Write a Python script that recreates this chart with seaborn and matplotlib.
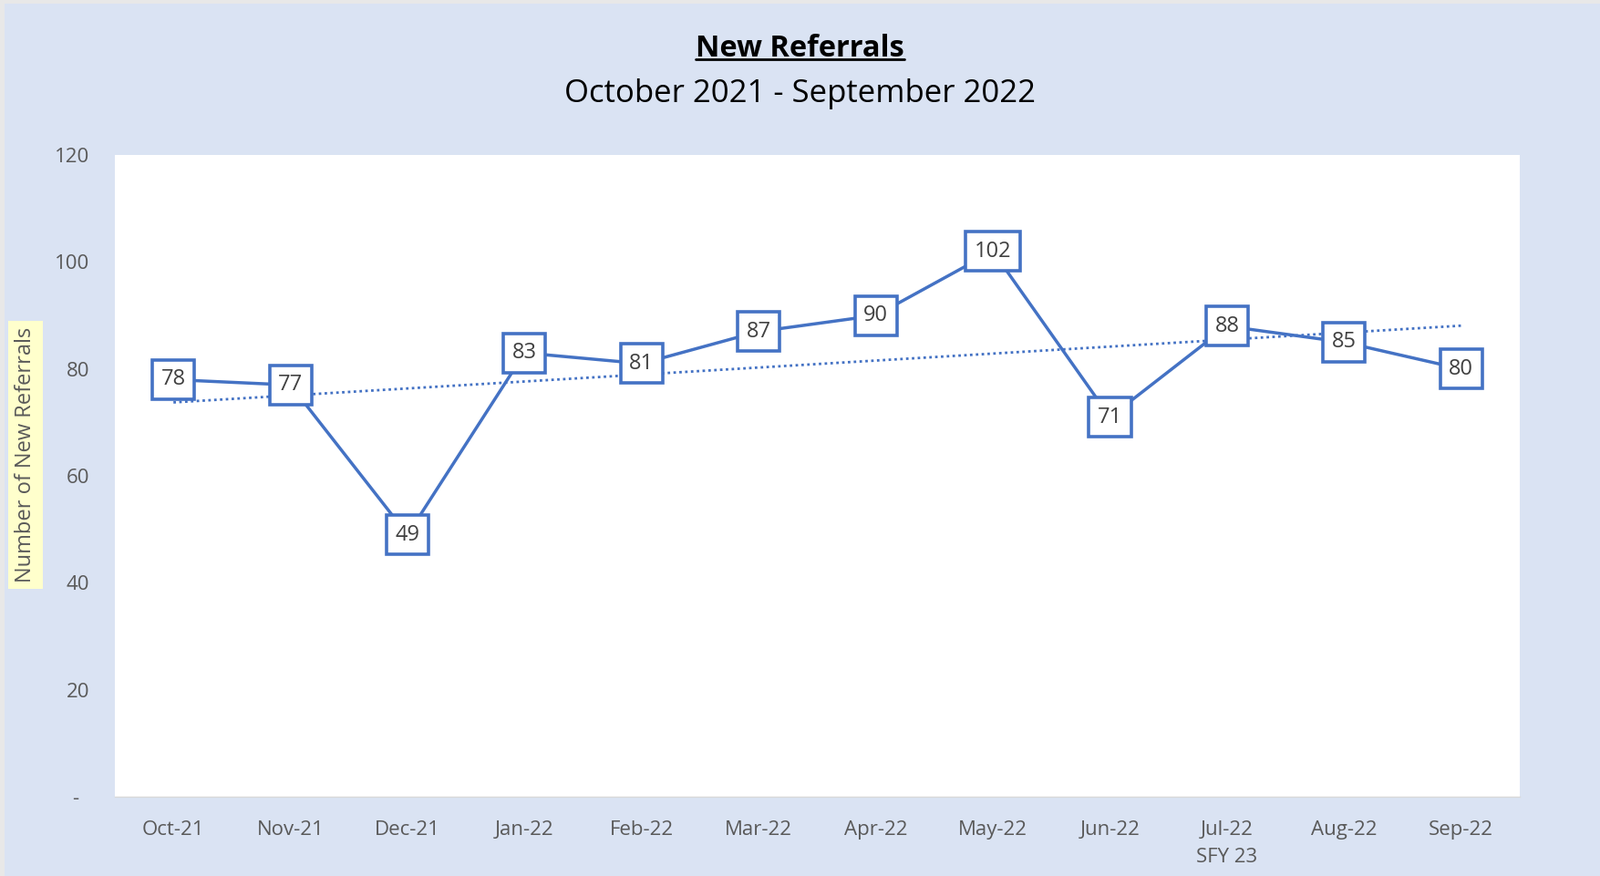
import matplotlib
matplotlib.use("Agg")
import matplotlib.pyplot as plt
import seaborn as sns
import pandas as pd
from matplotlib.patches import Rectangle
from matplotlib.lines import Line2D

months = ["Oct-21", "Nov-21", "Dec-21", "Jan-22", "Feb-22", "Mar-22",
          "Apr-22", "May-22", "Jun-22", "Jul-22\nSFY 23", "Aug-22", "Sep-22"]
referrals = [78, 77, 49, 83, 81, 87, 90, 102, 71, 88, 85, 80]
y_ticks = [0, 20, 40, 60, 80, 100, 120]
y_tick_labels = ["-  ", "20", "40", "60", "80", "100", "120"]

df = pd.DataFrame({"idx": range(len(months)), "Month": months, "Referrals": referrals})

sns.set_theme(style="white")
plt.rcParams["font.family"] = ["Open Sans", "DejaVu Sans"]

blue = "#4472C4"
grey = "#595959"

fig = plt.figure(figsize=(17.55, 9.61), dpi=100, facecolor="#DAE3F3")
# screenshot edges
fig.add_artist(Rectangle((0, 1 - 4 / 961), 1, 4 / 961, transform=fig.transFigure, fc="#E8E8E8", ec="none"))
fig.add_artist(Rectangle((0, 0), 5 / 1755, 1, transform=fig.transFigure, fc="#E8E8E8", ec="none"))

ax = fig.add_axes([0.0718, 0.0905, 0.878, 0.7325])
ax.set_facecolor("white")

sns.lineplot(data=df, x="idx", y="Referrals", color=blue, lw=2.5, ax=ax, zorder=2)
sns.regplot(data=df, x="idx", y="Referrals", scatter=False, ci=None, ax=ax,
            line_kws=dict(color=blue, lw=2, ls=(0, (1, 1.3)), zorder=3))

for i, v in zip(df["idx"], df["Referrals"]):
    ax.text(i, v, f"{v}", ha="center", va="center", fontsize=17, color="#404040", zorder=5,
            bbox=dict(boxstyle="square,pad=0.4", fc="white", ec=blue, lw=2.6))

ax.set_xlim(-0.5, len(months) - 0.5)
ax.set_ylim(0, 120)
ax.set_xticks(df["idx"], months)
ax.set_yticks(y_ticks, y_tick_labels)
ax.tick_params(axis="both", length=0, labelsize=16, colors=grey)
ax.tick_params(axis="y", pad=20)
ax.tick_params(axis="x", pad=19)
for lab in ax.get_xticklabels():
    lab.set_linespacing(1.55)
ax.set_xlabel("")
ax.set_ylabel("")
sns.despine(ax=ax, left=True, top=True, right=True)
ax.spines["bottom"].set_color("#D9D9D9")
ax.spines["bottom"].set_linewidth(1)

fig.text(28 / 1755, 1 - 499 / 961, "Number of New Referrals", rotation=90, ha="center", va="center",
         fontsize=17, color=grey,
         bbox=dict(boxstyle="square,pad=0.3", fc="#FFFFCC", ec="none"))

title = fig.text(0.5, 1 - 53 / 961, "New Referrals", ha="center", va="center",
                 fontsize=23.5, fontweight="bold", color="black")
fig.text(0.5, 1 - 103 / 961, "October 2021 - September 2022", ha="center", va="center",
         fontsize=25, color="black")

# underline the title
fig.canvas.draw()
bb = title.get_window_extent()
inv = fig.transFigure.inverted()
(x0, y0), (x1, _) = inv.transform([(bb.x0, bb.y0 + 4), (bb.x1, bb.y0 + 4)])
fig.add_artist(Line2D([x0, x1], [y0, y0], transform=fig.transFigure, color="black", lw=2))

fig.savefig("out.png", dpi=100, facecolor=fig.get_facecolor())
